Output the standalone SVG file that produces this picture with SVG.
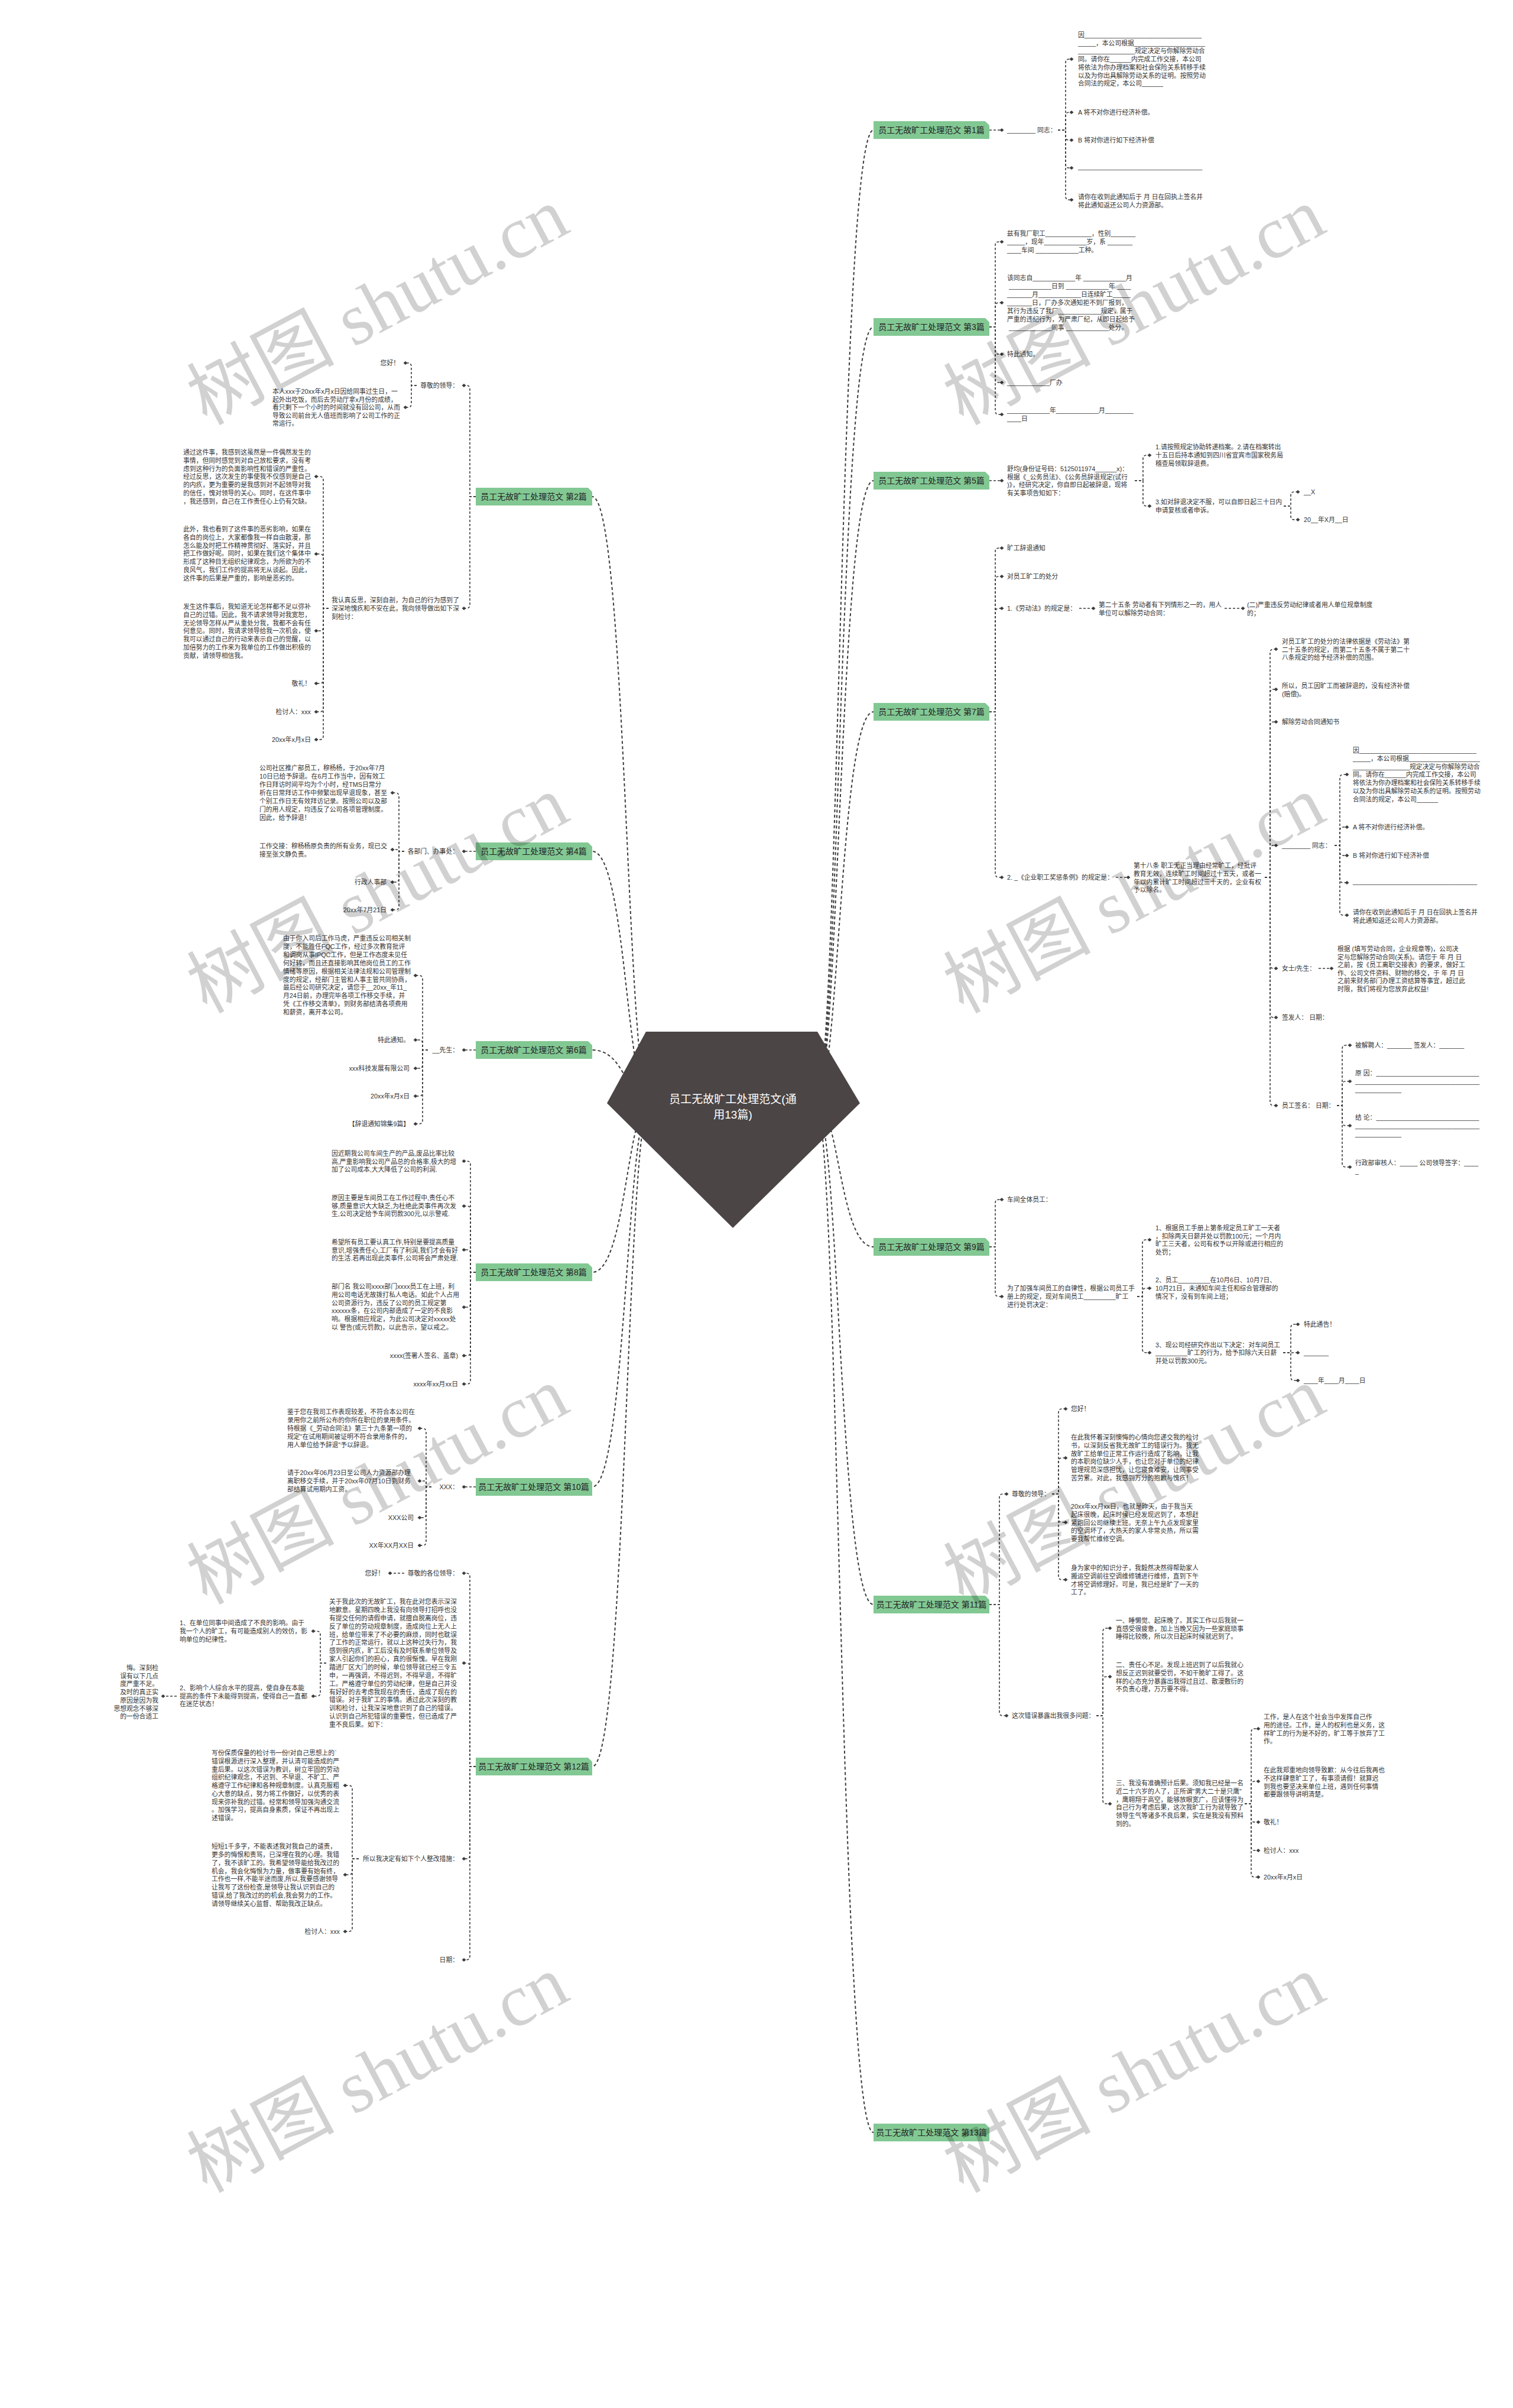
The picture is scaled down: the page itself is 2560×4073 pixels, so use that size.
<svg xmlns="http://www.w3.org/2000/svg" width="2560" height="4073" viewBox="0 0 2560 4073">
<defs>
<style>
.t{font-family:"Liberation Sans","Noto Sans CJK SC",sans-serif;font-size:10.8px;fill:#333}
.e{text-anchor:end}
.nt{font-family:"Liberation Sans","Noto Sans CJK SC",sans-serif;font-size:14px;fill:#222;text-anchor:middle}
.nb{fill:#82c893}
.c path{fill:none;stroke:#3c3c3c;stroke-width:1.6;stroke-dasharray:4 3}
.m path{fill:none;stroke:#3c3c3c;stroke-width:2;stroke-dasharray:5 4}
.wm{font-family:"Liberation Serif","Noto Sans CJK SC",serif;font-size:125px;fill:#000;fill-opacity:.18;text-anchor:middle}
</style>
<path id="d" d="M-3.5 0L0-3L3.5 0L0 3Z" fill="#3c3c3c"/>
</defs>
<rect width="2560" height="4073" fill="#fff"/>

<g id="connectors">
<g class="m">
<path d="M1380 1866C1420 1866 1420 220 1478 220"/>
<path d="M1380 1866C1420 1866 1420 553 1478 553"/>
<path d="M1380 1866C1420 1866 1420 813 1478 813"/>
<path d="M1380 1866C1420 1866 1420 1204 1478 1204"/>
<path d="M1380 1866C1420 1866 1420 2109 1478 2109"/>
<path d="M1380 1866C1420 1866 1420 2714 1478 2714"/>
<path d="M1380 1866C1420 1866 1420 3607 1478 3607"/>
<path d="M1100 1866C1060 1866 1060 840 1002 840"/>
<path d="M1100 1866C1060 1866 1060 1440 1002 1440"/>
<path d="M1100 1866C1060 1866 1060 1776 1002 1776"/>
<path d="M1100 1866C1060 1866 1060 2152 1002 2152"/>
<path d="M1100 1866C1060 1866 1060 2515 1002 2515"/>
<path d="M1100 1866C1060 1866 1060 2988 1002 2988"/>
</g>
<g class="c">
<path d="M1674 220H1692"/>
<path d="M1790 220H1803V106Q1803 100 1809 100H1813"/>
<path d="M1790 220H1803V196Q1803 190 1809 190H1813"/>
<path d="M1790 220H1803V231Q1803 237 1809 237H1813"/>
<path d="M1790 220H1803V278Q1803 284 1809 284H1813"/>
<path d="M1790 220H1803V332Q1803 338 1809 338H1813"/>
<path d="M1674 553H1684V415Q1684 409 1690 409H1695"/>
<path d="M1674 553H1684V518Q1684 512 1690 512H1695"/>
<path d="M1674 553H1684V593Q1684 599 1690 599H1695"/>
<path d="M1674 553H1684V641Q1684 647 1690 647H1695"/>
<path d="M1674 553H1684V695Q1684 701 1690 701H1695"/>
<path d="M1674 813H1695"/>
<path d="M1920 813H1934V776Q1934 770 1940 770H1945"/>
<path d="M1920 813H1934V850Q1934 856 1940 856H1945"/>
<path d="M2172 856H2184V838Q2184 832 2190 832H2196"/>
<path d="M2172 856H2184V873Q2184 879 2190 879H2196"/>
<path d="M1674 1204H1684V933Q1684 927 1690 927H1695"/>
<path d="M1674 1204H1684V981Q1684 975 1690 975H1695"/>
<path d="M1674 1204H1684V1035Q1684 1029 1690 1029H1695"/>
<path d="M1674 1204H1684V1478Q1684 1484 1690 1484H1695"/>
<path d="M1826 1029H1850"/>
<path d="M2072 1029H2103"/>
<path d="M1888 1484H1909"/>
<path d="M2140 1484H2149V1104Q2149 1098 2155 1098H2159"/>
<path d="M2140 1484H2149V1172Q2149 1166 2155 1166H2159"/>
<path d="M2140 1484H2149V1227Q2149 1221 2155 1221H2159"/>
<path d="M2140 1484H2149V1436Q2149 1430 2155 1430H2159"/>
<path d="M2140 1484H2149V1632Q2149 1638 2155 1638H2159"/>
<path d="M2140 1484H2149V1715Q2149 1721 2155 1721H2159"/>
<path d="M2140 1484H2149V1864Q2149 1870 2155 1870H2159"/>
<path d="M2258 1430H2267V1316Q2267 1310 2273 1310H2279"/>
<path d="M2258 1430H2267V1405Q2267 1399 2273 1399H2279"/>
<path d="M2258 1430H2267V1441Q2267 1447 2273 1447H2279"/>
<path d="M2258 1430H2267V1487Q2267 1493 2273 1493H2279"/>
<path d="M2258 1430H2267V1542Q2267 1548 2273 1548H2279"/>
<path d="M2231 1638H2253"/>
<path d="M2262 1870H2271V1774Q2271 1768 2277 1768H2284"/>
<path d="M2262 1870H2271V1835Q2271 1829 2277 1829H2284"/>
<path d="M2262 1870H2271V1898Q2271 1904 2277 1904H2284"/>
<path d="M2262 1870H2271V1968Q2271 1974 2277 1974H2284"/>
<path d="M1674 2109H1684V2035Q1684 2029 1690 2029H1695"/>
<path d="M1674 2109H1684V2187Q1684 2193 1690 2193H1695"/>
<path d="M1924 2193H1933V2103Q1933 2097 1939 2097H1945"/>
<path d="M1924 2193H1933V2185Q1933 2179 1939 2179H1945"/>
<path d="M1924 2193H1933V2282Q1933 2288 1939 2288H1945"/>
<path d="M2171 2288H2184V2246Q2184 2240 2190 2240H2196"/>
<path d="M2171 2288H2196"/>
<path d="M2171 2288H2184V2329Q2184 2335 2190 2335H2196"/>
<path d="M1674 2714H1691V2533Q1691 2527 1697 2527H1703"/>
<path d="M1674 2714H1691V2896Q1691 2902 1697 2902H1703"/>
<path d="M1780 2527H1791V2389Q1791 2383 1797 2383H1803"/>
<path d="M1780 2527H1791V2472Q1791 2466 1797 2466H1803"/>
<path d="M1780 2527H1791V2569Q1791 2575 1797 2575H1803"/>
<path d="M1780 2527H1791V2666Q1791 2672 1797 2672H1803"/>
<path d="M1855 2902H1866V2760Q1866 2754 1872 2754H1878"/>
<path d="M1855 2902H1866V2842Q1866 2836 1872 2836H1878"/>
<path d="M1855 2902H1866V3045Q1866 3051 1872 3051H1878"/>
<path d="M2106 3051H2117V2930Q2117 2924 2123 2924H2129"/>
<path d="M2106 3051H2117V3019Q2117 3013 2123 3013H2129"/>
<path d="M2106 3051H2117V3076Q2117 3082 2123 3082H2129"/>
<path d="M2106 3051H2117V3124Q2117 3130 2123 3130H2129"/>
<path d="M2106 3051H2117V3169Q2117 3175 2123 3175H2129"/>
<path d="M805 840H795V658Q795 652 789 652H785"/>
<path d="M805 840H795V1023Q795 1029 789 1029H785"/>
<path d="M705 652H696V620Q696 614 690 614H686"/>
<path d="M705 652H696V683Q696 689 690 689H686"/>
<path d="M556 1029H547V812Q547 806 541 806H535"/>
<path d="M556 1029H547V943Q547 937 541 937H535"/>
<path d="M556 1029H547V1061Q547 1067 541 1067H535"/>
<path d="M556 1029H547V1150Q547 1156 541 1156H535"/>
<path d="M556 1029H547V1198Q547 1204 541 1204H535"/>
<path d="M556 1029H547V1245Q547 1251 541 1251H535"/>
<path d="M805 1440H785"/>
<path d="M684 1440H675V1347Q675 1341 669 1341H664"/>
<path d="M684 1440H675V1437H664"/>
<path d="M684 1440H675V1486Q675 1492 669 1492H664"/>
<path d="M684 1440H675V1533Q675 1539 669 1539H664"/>
<path d="M805 1776H785"/>
<path d="M724 1776H715V1656Q715 1650 709 1650H703"/>
<path d="M724 1776H715V1765Q715 1759 709 1759H703"/>
<path d="M724 1776H715V1801Q715 1807 709 1807H703"/>
<path d="M724 1776H715V1848Q715 1854 709 1854H703"/>
<path d="M724 1776H715V1895Q715 1901 709 1901H703"/>
<path d="M805 2152H796V1970Q796 1964 790 1964H785"/>
<path d="M805 2152H796V2046Q796 2040 790 2040H785"/>
<path d="M805 2152H796V2120Q796 2114 790 2114H785"/>
<path d="M805 2152H796V2205Q796 2211 790 2211H785"/>
<path d="M805 2152H796V2287Q796 2293 790 2293H785"/>
<path d="M805 2152H796V2335Q796 2341 790 2341H785"/>
<path d="M805 2515H785"/>
<path d="M730 2515H721V2422Q721 2416 715 2416H710"/>
<path d="M730 2515H721V2505H710"/>
<path d="M730 2515H721V2561Q721 2567 715 2567H710"/>
<path d="M730 2515H721V2608Q721 2614 715 2614H710"/>
<path d="M805 2988H795V2667Q795 2661 789 2661H785"/>
<path d="M805 2988H795V2819Q795 2813 789 2813H785"/>
<path d="M805 2988H795V3138Q795 3144 789 3144H785"/>
<path d="M805 2988H795V3309Q795 3315 789 3315H785"/>
<path d="M684 2661H660"/>
<path d="M552 2813H542V2765Q542 2759 536 2759H530"/>
<path d="M552 2813H542V2863Q542 2869 536 2869H530"/>
<path d="M299 2869H276"/>
<path d="M607 3144H596V3026Q596 3020 590 3020H584"/>
<path d="M607 3144H596V3165Q596 3171 590 3171H584"/>
<path d="M607 3144H596V3261Q596 3267 590 3267H584"/>
</g>
<g id="diamonds">
<use href="#d" x="1695" y="220"/><use href="#d" x="1813" y="100"/><use href="#d" x="1813" y="190"/><use href="#d" x="1813" y="237"/><use href="#d" x="1813" y="284"/><use href="#d" x="1813" y="338"/>
<use href="#d" x="1695" y="409"/><use href="#d" x="1695" y="512"/><use href="#d" x="1695" y="599"/><use href="#d" x="1695" y="647"/><use href="#d" x="1695" y="701"/>
<use href="#d" x="1695" y="813"/><use href="#d" x="1945" y="770"/><use href="#d" x="1945" y="856"/><use href="#d" x="2196" y="832"/><use href="#d" x="2196" y="879"/>
<use href="#d" x="1695" y="927"/><use href="#d" x="1695" y="975"/><use href="#d" x="1695" y="1029"/><use href="#d" x="1695" y="1484"/>
<use href="#d" x="1850" y="1029"/><use href="#d" x="2103" y="1029"/><use href="#d" x="1909" y="1484"/>
<use href="#d" x="2159" y="1098"/><use href="#d" x="2159" y="1166"/><use href="#d" x="2159" y="1221"/><use href="#d" x="2159" y="1430"/><use href="#d" x="2159" y="1638"/><use href="#d" x="2159" y="1721"/><use href="#d" x="2159" y="1870"/>
<use href="#d" x="2279" y="1310"/><use href="#d" x="2279" y="1399"/><use href="#d" x="2279" y="1447"/><use href="#d" x="2279" y="1493"/><use href="#d" x="2279" y="1548"/>
<use href="#d" x="2253" y="1638"/>
<use href="#d" x="2284" y="1768"/><use href="#d" x="2284" y="1829"/><use href="#d" x="2284" y="1904"/><use href="#d" x="2284" y="1974"/>
<use href="#d" x="1695" y="2029"/><use href="#d" x="1695" y="2193"/><use href="#d" x="1945" y="2097"/><use href="#d" x="1945" y="2179"/><use href="#d" x="1945" y="2288"/>
<use href="#d" x="2196" y="2240"/><use href="#d" x="2196" y="2288"/><use href="#d" x="2196" y="2335"/>
<use href="#d" x="1703" y="2527"/><use href="#d" x="1703" y="2902"/>
<use href="#d" x="1803" y="2383"/><use href="#d" x="1803" y="2466"/><use href="#d" x="1803" y="2575"/><use href="#d" x="1803" y="2672"/>
<use href="#d" x="1878" y="2754"/><use href="#d" x="1878" y="2836"/><use href="#d" x="1878" y="3051"/>
<use href="#d" x="2129" y="2924"/><use href="#d" x="2129" y="3013"/><use href="#d" x="2129" y="3082"/><use href="#d" x="2129" y="3130"/><use href="#d" x="2129" y="3175"/>
<use href="#d" x="785" y="652"/><use href="#d" x="785" y="1029"/><use href="#d" x="686" y="614"/><use href="#d" x="686" y="689"/>
<use href="#d" x="535" y="806"/><use href="#d" x="535" y="937"/><use href="#d" x="535" y="1067"/><use href="#d" x="535" y="1156"/><use href="#d" x="535" y="1204"/><use href="#d" x="535" y="1251"/>
<use href="#d" x="785" y="1440"/><use href="#d" x="664" y="1341"/><use href="#d" x="664" y="1437"/><use href="#d" x="664" y="1492"/><use href="#d" x="664" y="1539"/>
<use href="#d" x="785" y="1776"/><use href="#d" x="703" y="1650"/><use href="#d" x="703" y="1759"/><use href="#d" x="703" y="1807"/><use href="#d" x="703" y="1854"/><use href="#d" x="703" y="1901"/>
<use href="#d" x="785" y="1964"/><use href="#d" x="785" y="2040"/><use href="#d" x="785" y="2114"/><use href="#d" x="785" y="2211"/><use href="#d" x="785" y="2293"/><use href="#d" x="785" y="2341"/>
<use href="#d" x="785" y="2515"/><use href="#d" x="710" y="2416"/><use href="#d" x="710" y="2505"/><use href="#d" x="710" y="2567"/><use href="#d" x="710" y="2614"/>
<use href="#d" x="785" y="2661"/><use href="#d" x="785" y="2813"/><use href="#d" x="785" y="3144"/><use href="#d" x="785" y="3315"/>
<use href="#d" x="660" y="2661"/><use href="#d" x="530" y="2759"/><use href="#d" x="530" y="2869"/><use href="#d" x="276" y="2869"/>
<use href="#d" x="584" y="3020"/><use href="#d" x="584" y="3171"/><use href="#d" x="584" y="3267"/>
</g>
</g>

<g id="root">
<path d="M1093 1745H1383L1455 1866L1240 2077L1027 1866Z" fill="#4b4545"/>
<text x="1240" y="1866" font-family="Liberation Sans,Noto Sans CJK SC,sans-serif" font-size="19" fill="#fff" text-anchor="middle">员工无故旷工处理范文(通</text>
<text x="1240" y="1892" font-family="Liberation Sans,Noto Sans CJK SC,sans-serif" font-size="19" fill="#fff" text-anchor="middle">用13篇)</text>
</g>

<g id="b1">
<path class="nb" d="M1478 205H1667L1674 212V235H1478Z"/>
<text class="nt" x="1576" y="225">员工无故旷工处理范文 第1篇</text>
<text class="t" x="1704" y="224">________ 同志：</text>
<text class="t"><tspan x="1824" y="63">因_________________________________</tspan><tspan x="1824" y="76.7">_____，本公司根据____________________</tspan><tspan x="1824" y="90.4">________________规定决定与你解除劳动合</tspan><tspan x="1824" y="104.1">同。请你在______内完成工作交接，本公司</tspan><tspan x="1824" y="117.8">将依法为你办理档案和社会保险关系转移手续</tspan><tspan x="1824" y="131.5">以及为你出具解除劳动关系的证明。按照劳动</tspan><tspan x="1824" y="145.2">合同法的规定，本公司______</tspan></text>
<text class="t" x="1824" y="194">A 将不对你进行经济补偿。</text>
<text class="t" x="1824" y="241">B 将对你进行如下经济补偿</text>
<text class="t" x="1824" y="286">___________________________________</text>
<text class="t"><tspan x="1824" y="337">请你在收到此通知后于 月 日在回执上签名并</tspan><tspan x="1824" y="350.7">将此通知返还公司人力资源部。</tspan></text>
</g>

<g id="b3">
<path class="nb" d="M1478 538H1667L1674 545V568H1478Z"/>
<text class="nt" x="1576" y="558">员工无故旷工处理范文 第3篇</text>
<text class="t"><tspan x="1704" y="399">兹有我厂职工_____________，性别_______</tspan><tspan x="1704" y="413">_____，现年____________岁，系 _______</tspan><tspan x="1704" y="427">____车间 ____________工种。</tspan></text>
<text class="t"><tspan x="1704" y="474">该同志自____________年 ____________月</tspan><tspan x="1704" y="488"> ____________日到 ____________年 ____</tspan><tspan x="1704" y="502">_______月____________日连续旷工_____</tspan><tspan x="1704" y="516">_______日，厂办多次通知拒不到厂报到，</tspan><tspan x="1704" y="530">其行为违反了我厂____________规定，属于</tspan><tspan x="1704" y="544">严重的违纪行为，为严肃厂纪，从即日起给予</tspan><tspan x="1704" y="558"> ____________同事 ____________处分。</tspan></text>
<text class="t" x="1704" y="603">特此通知。</text>
<text class="t" x="1704" y="651">____________厂办</text>
<text class="t"><tspan x="1704" y="698">____________年____________月________</tspan><tspan x="1704" y="712">____日</tspan></text>
</g>

<g id="b5">
<path class="nb" d="M1478 798H1667L1674 805V828H1478Z"/>
<text class="nt" x="1576" y="818">员工无故旷工处理范文 第5篇</text>
<text class="t"><tspan x="1704" y="797">舒均(身份证号码：5125011974______x)：</tspan><tspan x="1704" y="810.5">根据《_公务员法》、《公务员辞退规定(试行</tspan><tspan x="1704" y="824">)》，经研究决定，你自即日起被辞退，现将</tspan><tspan x="1704" y="837.5">有关事项告知如下：</tspan></text>
<text class="t"><tspan x="1955" y="760">1.请按照规定协助转递档案。2.请在档案转出</tspan><tspan x="1955" y="774">十五日后持本通知到四川省宜宾市国家税务局</tspan><tspan x="1955" y="788">稽查局领取辞退费。</tspan></text>
<text class="t"><tspan x="1955" y="853">3.如对辞退决定不服，可以自即日起三十日内</tspan><tspan x="1955" y="867">申请复核或者申诉。</tspan></text>
<text class="t" x="2206" y="836">__X</text>
<text class="t" x="2206" y="883">20__年X月__日</text>
</g>

<g id="b7">
<path class="nb" d="M1478 1189H1667L1674 1196V1219H1478Z"/>
<text class="nt" x="1576" y="1209">员工无故旷工处理范文 第7篇</text>
<text class="t" x="1704" y="931">旷工辞退通知</text>
<text class="t" x="1704" y="979">对员工旷工的处分</text>
<text class="t" x="1704" y="1033">1.《劳动法》的规定是：</text>
<text class="t"><tspan x="1859" y="1027">第二十五条 劳动者有下列情形之一的，用人</tspan><tspan x="1859" y="1041">单位可以解除劳动合同：</tspan></text>
<text class="t"><tspan x="2110" y="1027">(二)严重违反劳动纪律或者用人单位规章制度</tspan><tspan x="2110" y="1041">的；</tspan></text>
<text class="t" x="1704" y="1488">2. _《企业职工奖惩条例》的规定是：</text>
<text class="t"><tspan x="1918" y="1468">第十八条 职工无正当理由经常旷工，经批评</tspan><tspan x="1918" y="1482">教育无效，连续旷工时间超过十五天，或者一</tspan><tspan x="1918" y="1495.5">年以内累计旷工时间超过三十天的，企业有权</tspan><tspan x="1918" y="1509">予以除名。</tspan></text>
<text class="t"><tspan x="2169" y="1089">对员工旷工的处分的法律依据是《劳动法》第</tspan><tspan x="2169" y="1102.5">二十五条的规定，而第二十五条不属于第二十</tspan><tspan x="2169" y="1116">八条规定的给予经济补偿的范围。</tspan></text>
<text class="t"><tspan x="2169" y="1164">所以，员工因旷工而被辞退的，没有经济补偿</tspan><tspan x="2169" y="1177.5">(赔偿)。</tspan></text>
<text class="t" x="2169" y="1225">解除劳动合同通知书</text>
<text class="t" x="2169" y="1434">________ 同志：</text>
<text class="t"><tspan x="2289" y="1273">因_________________________________</tspan><tspan x="2289" y="1286.8">_____，本公司根据____________________</tspan><tspan x="2289" y="1300.6">________________规定决定与你解除劳动合</tspan><tspan x="2289" y="1314.4">同。请你在______内完成工作交接，本公司</tspan><tspan x="2289" y="1328.2">将依法为你办理档案和社会保险关系转移手续</tspan><tspan x="2289" y="1342">以及为你出具解除劳动关系的证明。按照劳动</tspan><tspan x="2289" y="1355.8">合同法的规定，本公司______</tspan></text>
<text class="t" x="2289" y="1403">A 将不对你进行经济补偿。</text>
<text class="t" x="2289" y="1451">B 将对你进行如下经济补偿</text>
<text class="t" x="2289" y="1495">___________________________________</text>
<text class="t"><tspan x="2289" y="1547">请你在收到此通知后于 月 日在回执上签名并</tspan><tspan x="2289" y="1560.5">将此通知返还公司人力资源部。</tspan></text>
<text class="t" x="2169" y="1642">女士/先生：</text>
<text class="t"><tspan x="2263" y="1609">根据 (填写劳动合同，企业规章等)，公司决</tspan><tspan x="2263" y="1622.6">定与您解除劳动合同(关系)。请您于 年 月 日</tspan><tspan x="2263" y="1636.2">之前，按《员工离职交接表》的要求，做好工</tspan><tspan x="2263" y="1649.8">作、公司文件资料、财物的移交，于 年 月 日</tspan><tspan x="2263" y="1663.4">之前来财务部门办理工资结算等事宜，超过此</tspan><tspan x="2263" y="1677">时限，我们将视为您放弃此权益!</tspan></text>
<text class="t" x="2169" y="1725">签发人： 日期：</text>
<text class="t" x="2169" y="1874">员工签名： 日期：</text>
<text class="t" x="2293" y="1772">被解聘人：_______ 签发人：_______</text>
<text class="t"><tspan x="2293" y="1819">原 因：_____________________________</tspan><tspan x="2293" y="1833">___________________________________</tspan><tspan x="2293" y="1847">_____________</tspan></text>
<text class="t"><tspan x="2293" y="1894">结 论：_____________________________</tspan><tspan x="2293" y="1908">___________________________________</tspan><tspan x="2293" y="1922">_____________</tspan></text>
<text class="t"><tspan x="2293" y="1971">行政部审核人：_____ 公司领导签字：____</tspan><tspan x="2293" y="1985">_</tspan></text>
</g>

<g id="b9">
<path class="nb" d="M1478 2094H1667L1674 2101V2124H1478Z"/>
<text class="nt" x="1576" y="2114">员工无故旷工处理范文 第9篇</text>
<text class="t" x="1704" y="2033">车间全体员工：</text>
<text class="t"><tspan x="1704" y="2183">为了加强车间员工的自律性，根据公司员工手</tspan><tspan x="1704" y="2197">册上的规定，现对车间员工_________旷工</tspan><tspan x="1704" y="2211">进行处罚决定：</tspan></text>
<text class="t"><tspan x="1955" y="2081">1、根据员工手册上第条规定员工旷工一天者</tspan><tspan x="1955" y="2095">，扣除两天日薪并处以罚款100元；一个月内</tspan><tspan x="1955" y="2108">旷工三天者，公司有权予以开除或进行相应的</tspan><tspan x="1955" y="2122">处罚；</tspan></text>
<text class="t"><tspan x="1955" y="2169">2、员工_________在10月6日、10月7日、</tspan><tspan x="1955" y="2183">10月21日，未通知车间主任和综合管理部的</tspan><tspan x="1955" y="2197">情况下，没有到车间上班；</tspan></text>
<text class="t"><tspan x="1955" y="2279">3、现公司经研究作出以下决定：对车间员工</tspan><tspan x="1955" y="2292">_________旷工的行为，给予扣除六天日薪</tspan><tspan x="1955" y="2306">并处以罚款300元。</tspan></text>
<text class="t" x="2206" y="2244">特此通告！</text>
<text class="t" x="2206" y="2292">_______</text>
<text class="t" x="2206" y="2339">____年____月____日</text>
</g>

<g id="b11">
<path class="nb" d="M1478 2699H1667L1674 2706V2729H1478Z"/>
<text class="nt" x="1576" y="2719">员工无故旷工处理范文 第11篇</text>
<text class="t" x="1712" y="2531">尊敬的领导：</text>
<text class="t" x="1812" y="2387">您好！</text>
<text class="t"><tspan x="1812" y="2435">在此我怀着深刻懊悔的心情向您递交我的检讨</tspan><tspan x="1812" y="2448.8">书，以深刻反省我无故旷工的错误行为。我无</tspan><tspan x="1812" y="2462.6">故旷工给单位正常工作运行造成了影响，让我</tspan><tspan x="1812" y="2476.4">的本职岗位缺少人手，也让您对于单位的纪律</tspan><tspan x="1812" y="2490.2">管理规范深感担忧，让您寝食难安，让同事受</tspan><tspan x="1812" y="2504">苦劳累。对此，我感到万分的抱歉与愧疚！</tspan></text>
<text class="t"><tspan x="1812" y="2552">20xx年xx月xx日，也就是昨天，由于我当天</tspan><tspan x="1812" y="2565.8">起床很晚，起床时候已经发现迟到了，本想赶</tspan><tspan x="1812" y="2579.6">紧跑回公司继续上班。无奈上午九点发现家里</tspan><tspan x="1812" y="2593.4">的空调坏了，大热天的家人非常炎热，所以需</tspan><tspan x="1812" y="2607.2">要我帮忙维修空调。</tspan></text>
<text class="t"><tspan x="1812" y="2656">身为家中的知识分子，我毅然决然得帮助家人</tspan><tspan x="1812" y="2669.8">搬运空调前往空调维修铺进行维修，直到下午</tspan><tspan x="1812" y="2683.6">才将空调修理好。可是，我已经是旷了一天的</tspan><tspan x="1812" y="2697.4">工了。</tspan></text>
<text class="t" x="1712" y="2906">这次错误暴露出我很多问题：</text>
<text class="t"><tspan x="1888" y="2745">一、睡懒觉、起床晚了。其实工作以后我就一</tspan><tspan x="1888" y="2758.5">直感受很疲惫，加上当晚又因为一些家庭琐事</tspan><tspan x="1888" y="2772">睡得比较晚，所以次日起床时候就迟到了。</tspan></text>
<text class="t"><tspan x="1888" y="2820">二、责任心不足。发现上班迟到了以后我就心</tspan><tspan x="1888" y="2833.8">想反正迟到就要受罚，不如干脆旷工得了。这</tspan><tspan x="1888" y="2847.6">样的心态充分暴露出我得过且过、散漫敷衍的</tspan><tspan x="1888" y="2861.4">不负责心理，万万要不得。</tspan></text>
<text class="t"><tspan x="1888" y="3020">三、我没有准确预计后果。须知我已经是一名</tspan><tspan x="1888" y="3033.8">近二十六岁的人了，正所谓"男大二十是只鹰"</tspan><tspan x="1888" y="3047.6">，鹰翱翔于高空，能够放眼宽广，应该懂得为</tspan><tspan x="1888" y="3061.4">自己行为考虑后果，这次我旷工行为就导致了</tspan><tspan x="1888" y="3075.2">领导生气等诸多不良后果，实在是我没有预料</tspan><tspan x="1888" y="3089">到的。</tspan></text>
<text class="t"><tspan x="2138" y="2908">工作，是人在这个社会当中发挥自己作</tspan><tspan x="2138" y="2921.8">用的途径。工作，是人的权利也是义务，这</tspan><tspan x="2138" y="2935.6">样旷工的行为是不好的，旷工等于放弃了工</tspan><tspan x="2138" y="2949.4">作。</tspan></text>
<text class="t"><tspan x="2138" y="2998">在此我郑重地向领导致歉：从今往后我再也</tspan><tspan x="2138" y="3011.8">不这样肆意旷工了，有事须请假！就算迟</tspan><tspan x="2138" y="3025.6">到我也要坚决来单位上班，遇到任何事情</tspan><tspan x="2138" y="3039.4">都要跟领导讲明清楚。</tspan></text>
<text class="t" x="2138" y="3086">敬礼！</text>
<text class="t" x="2138" y="3134">检讨人：xxx</text>
<text class="t" x="2138" y="3179">20xx年x月x日</text>
</g>

<g id="b13">
<path class="nb" d="M1478 3592H1667L1674 3599V3622H1478Z"/>
<text class="nt" x="1576" y="3612">员工无故旷工处理范文 第13篇</text>
</g>

<g id="b2">
<path class="nb" d="M805 825H995L1002 832V855H805Z"/>
<text class="nt" x="903" y="845">员工无故旷工处理范文 第2篇</text>
<text class="t e" x="776" y="656">尊敬的领导：</text>
<text class="t e" x="676" y="618">您好！</text>
<text class="t"><tspan x="461" y="666">本人xxx于20xx年x月x日因给同事过生日，一</tspan><tspan x="461" y="679.5">起外出吃饭，而后去劳动厅拿x月份的成绩，</tspan><tspan x="461" y="693">看只剩下一个小时的时间就没有回公司，从而</tspan><tspan x="461" y="706.5">导致公司前台无人值班而影响了公司工作的正</tspan><tspan x="461" y="720">常运行。</tspan></text>
<text class="t"><tspan x="561" y="1019">我认真反思，深刻自剖，为自己的行为感到了</tspan><tspan x="561" y="1033">深深地愧疚和不安在此，我向领导做出如下深</tspan><tspan x="561" y="1047">刻检讨：</tspan></text>
<text class="t"><tspan x="310" y="769">通过这件事，我感到这虽然是一件偶然发生的</tspan><tspan x="310" y="782.8">事情，但同时感觉到对自己放松要求，没有考</tspan><tspan x="310" y="796.6">虑到这种行为的负面影响性和错误的严重性。</tspan><tspan x="310" y="810.4">经过反思，这次发生的事使我不仅感到是自己</tspan><tspan x="310" y="824.2">的内疚，更为重要的是我感到对不起领导对我</tspan><tspan x="310" y="838">的信任，愧对领导的关心。同时，在这件事中</tspan><tspan x="310" y="851.8">，我还感到，自己在工作责任心上仍有欠缺。</tspan></text>
<text class="t"><tspan x="310" y="899">此外，我也看到了这件事的恶劣影响，如果在</tspan><tspan x="310" y="912.8">各自的岗位上，大家都像我一样自由散漫，那</tspan><tspan x="310" y="926.6">怎么能及时把工作精神贯彻好、落实好，并且</tspan><tspan x="310" y="940.4">把工作做好呢。同时，如果在我们这个集体中</tspan><tspan x="310" y="954.2">形成了这种目无组织纪律观念，为所欲为的不</tspan><tspan x="310" y="968">良风气，我们工作的提高将无从谈起。因此，</tspan><tspan x="310" y="981.8">这件事的后果是严重的，影响是恶劣的。</tspan></text>
<text class="t"><tspan x="310" y="1030">发生这件事后，我知道无论怎样都不足以弥补</tspan><tspan x="310" y="1043.8">自己的过错。因此，我不请求领导对我宽恕，</tspan><tspan x="310" y="1057.6">无论领导怎样从严从重处分我，我都不会有任</tspan><tspan x="310" y="1071.4">何意见。同时，我请求领导给我一次机会，使</tspan><tspan x="310" y="1085.2">我可以通过自己的行动来表示自己的觉醒，以</tspan><tspan x="310" y="1099">加倍努力的工作来为我单位的工作做出积极的</tspan><tspan x="310" y="1112.8">贡献，请领导相信我。</tspan></text>
<text class="t e" x="526" y="1160">敬礼！</text>
<text class="t e" x="526" y="1208">检讨人：xxx</text>
<text class="t e" x="526" y="1255">20xx年x月x日</text>
</g>

<g id="b4">
<path class="nb" d="M805 1425H995L1002 1432V1455H805Z"/>
<text class="nt" x="903" y="1445">员工无故旷工处理范文 第4篇</text>
<text class="t e" x="776" y="1444">各部门、办事处：</text>
<text class="t"><tspan x="439" y="1303">公司社区推广部员工，穆杨杨，于20xx年7月</tspan><tspan x="439" y="1317">10日已给予辞退。在6月工作当中，因有效工</tspan><tspan x="439" y="1331">作日拜访时间平均为个小时，经TMS日常分</tspan><tspan x="439" y="1345">析在日常拜访工作中频繁出现早退现象，甚至</tspan><tspan x="439" y="1359">个别工作日无有效拜访记录。按照公司以及部</tspan><tspan x="439" y="1373">门的用人规定，均违反了公司各项管理制度。</tspan><tspan x="439" y="1387">因此，给予辞退！</tspan></text>
<text class="t"><tspan x="439" y="1435">工作交接：穆杨杨原负责的所有业务，现已交</tspan><tspan x="439" y="1449">接至张文静负责。</tspan></text>
<text class="t e" x="654" y="1496">行政人事部</text>
<text class="t e" x="654" y="1543">20xx年7月21日</text>
</g>

<g id="b6">
<path class="nb" d="M805 1761H995L1002 1768V1791H805Z"/>
<text class="nt" x="903" y="1781">员工无故旷工处理范文 第6篇</text>
<text class="t e" x="776" y="1780">__先生：</text>
<text class="t"><tspan x="479" y="1591">由于你入司后工作马虎，严重违反公司相关制</tspan><tspan x="479" y="1604.9">度，不能胜任FQC工作，经过多次教育批评</tspan><tspan x="479" y="1618.8">和调岗从事IPQC工作，但是工作态度未见任</tspan><tspan x="479" y="1632.7">何好转，而且还直接影响其他岗位员工的工作</tspan><tspan x="479" y="1646.6">情绪等原因，根据相关法律法规和公司管理制</tspan><tspan x="479" y="1660.5">度的规定，经部门主管和人事主管共同协商，</tspan><tspan x="479" y="1674.4">最后经公司研究决定，请您于__20xx_年11_</tspan><tspan x="479" y="1688.3">月24日前，办理完毕各项工作移交手续，并</tspan><tspan x="479" y="1702.2">凭《工作移交清单》，到财务部结清各项费用</tspan><tspan x="479" y="1716.1">和薪资，离开本公司。</tspan></text>
<text class="t e" x="693" y="1763">特此通知。</text>
<text class="t e" x="693" y="1811">xxx科技发展有限公司</text>
<text class="t e" x="693" y="1858">20xx年x月x日</text>
<text class="t e" x="693" y="1905">【辞退通知锦集9篇】</text>
</g>

<g id="b8">
<path class="nb" d="M805 2137H995L1002 2144V2167H805Z"/>
<text class="nt" x="903" y="2157">员工无故旷工处理范文 第8篇</text>
<text class="t"><tspan x="561" y="1955">因近期我公司车间生产的产品,废品比率比较</tspan><tspan x="561" y="1968.5">高,严重影响我公司产品总的合格率,极大的增</tspan><tspan x="561" y="1982">加了公司成本,大大降低了公司的利润.</tspan></text>
<text class="t"><tspan x="561" y="2030">原因主要是车间员工在工作过程中,责任心不</tspan><tspan x="561" y="2044">够,质量意识大大缺乏,为杜绝此类事件再次发</tspan><tspan x="561" y="2057">生,公司决定给予车间罚款300元,以示警戒.</tspan></text>
<text class="t"><tspan x="561" y="2105">希望所有员工要认真工作,特别是要提高质量</tspan><tspan x="561" y="2118.5">意识,增强责任心,工厂有了利润,我们才会有好</tspan><tspan x="561" y="2132">的生活.若再出现此类事件,公司将会严肃处理.</tspan></text>
<text class="t"><tspan x="561" y="2180">部门名 我公司xxxx部门xxxx员工在上班，利</tspan><tspan x="561" y="2193.8">用公司电话无故拨打私人电话。如此个人占用</tspan><tspan x="561" y="2207.6">公司资源行为，违反了公司的员工规定第</tspan><tspan x="561" y="2221.4">xxxxxx条，在公司内部造成了一定的不良影</tspan><tspan x="561" y="2235.2">响。根据相应规定，为此公司决定对xxxxx处</tspan><tspan x="561" y="2249">以 警告(或元罚款)，以此告示，望以戒之。</tspan></text>
<text class="t e" x="775" y="2297">xxxx(签署人签名、盖章)</text>
<text class="t e" x="775" y="2345">xxxx年xx月xx日</text>
</g>

<g id="b10">
<path class="nb" d="M805 2500H995L1002 2507V2530H805Z"/>
<text class="nt" x="903" y="2520">员工无故旷工处理范文 第10篇</text>
<text class="t e" x="776" y="2519">XXX：</text>
<text class="t"><tspan x="486" y="2392">鉴于您在我司工作表现较差，不符合本公司在</tspan><tspan x="486" y="2406">录用你之前所公布的你所在职位的录用条件。</tspan><tspan x="486" y="2420">特根据《_劳动合同法》第三十九条第一项的</tspan><tspan x="486" y="2434">规定"在试用期间被证明不符合录用条件的，</tspan><tspan x="486" y="2448">用人单位给予辞退"予以辞退。</tspan></text>
<text class="t"><tspan x="486" y="2495">请于20xx年06月23日至公司人力资源部办理</tspan><tspan x="486" y="2509">离职移交手续，并于20xx年07月10日到财务</tspan><tspan x="486" y="2523">部结算试用期内工资。</tspan></text>
<text class="t e" x="700" y="2571">XXX公司</text>
<text class="t e" x="700" y="2618">XX年XX月XX日</text>
</g>

<g id="b12">
<path class="nb" d="M805 2973H995L1002 2980V3003H805Z"/>
<text class="nt" x="903" y="2993">员工无故旷工处理范文 第12篇</text>
<text class="t e" x="776" y="2665">尊敬的各位领导：</text>
<text class="t e" x="650" y="2665">您好！</text>
<text class="t"><tspan x="557" y="2713">关于我此次的无故旷工，我在此对您表示深深</tspan><tspan x="557" y="2726.9">地歉意。星期四晚上我没有向领导打招呼也没</tspan><tspan x="557" y="2740.7">有提交任何的请假申请，就擅自脱离岗位，违</tspan><tspan x="557" y="2754.6">反了单位的劳动规章制度，造成岗位上无人上</tspan><tspan x="557" y="2768.5">班，给单位带来了不必要的麻烦，同时也耽误</tspan><tspan x="557" y="2782.4">了工作的正常运行，就以上这种过失行为，我</tspan><tspan x="557" y="2796.2">感到很内疚，旷工后没有及时联系单位领导及</tspan><tspan x="557" y="2810.1">家人引起你们的担心，真的很惭愧。早在我刚</tspan><tspan x="557" y="2824">踏进厂区大门的时候，单位领导就已经三令五</tspan><tspan x="557" y="2837.8">申，一再强调，不得迟到，不得早退，不得旷</tspan><tspan x="557" y="2851.7">工。严格遵守单位的劳动纪律，但是自己并没</tspan><tspan x="557" y="2865.6">有好好的去考虑我现在的责任，造成了现在的</tspan><tspan x="557" y="2879.4">错误。对于我旷工的事情。通过此次深刻的教</tspan><tspan x="557" y="2893.3">训和检讨，让我深深地意识到了自己的错误。</tspan><tspan x="557" y="2907.2">认识到自己所犯错误的重要性，但已造成了严</tspan><tspan x="557" y="2921">重不良后果。如下：</tspan></text>
<text class="t"><tspan x="304" y="2749">1、在单位同事中间造成了不良的影响。由于</tspan><tspan x="304" y="2763">我一个人的旷工，有可能造成别人的效仿，影</tspan><tspan x="304" y="2777">响单位的纪律性。</tspan></text>
<text class="t"><tspan x="304" y="2859">2、影响个人综合水平的提高，使自身在本能</tspan><tspan x="304" y="2873">提高的条件下未能得到提高，使得自己一直都</tspan><tspan x="304" y="2886">在迷茫状态！</tspan></text>
<text class="t e"><tspan x="268" y="2825">悔。深刻检</tspan><tspan x="268" y="2838.7">误有以下几点</tspan><tspan x="268" y="2852.4">度严重不足。</tspan><tspan x="268" y="2866.1">及时的真正实</tspan><tspan x="268" y="2879.8">原因是因为我</tspan><tspan x="268" y="2893.5">思想观念不够深</tspan><tspan x="268" y="2907.2">的一份合适工</tspan></text>
<text class="t e" x="776" y="3148">所以我决定有如下个人整改措施：</text>
<text class="t"><tspan x="358" y="2969">写份保质保量的检讨书一份!对自己思想上的`</tspan><tspan x="358" y="2982.8">错误根源进行深入整理，并认清可能造成的严</tspan><tspan x="358" y="2996.5">重后果。以这次错误为教训，树立牢固的劳动</tspan><tspan x="358" y="3010.2">组织纪律观念，不迟到、不早退、不旷工、严</tspan><tspan x="358" y="3024">格遵守工作纪律和各种规章制度。认真克服粗</tspan><tspan x="358" y="3037.8">心大意的缺点，努力将工作做好，以优秀的表</tspan><tspan x="358" y="3051.5">现来弥补我的过错。经常和领导加强沟通交流</tspan><tspan x="358" y="3065.2">。加强学习，提高自身素质，保证不再出现上</tspan><tspan x="358" y="3079">述错误。</tspan></text>
<text class="t"><tspan x="358" y="3127">短短1千多字，不能表述我对我自己的谴责，</tspan><tspan x="358" y="3140.9">更多的悔恨和责骂，已深埋在我的心理。我错</tspan><tspan x="358" y="3154.7">了，我不该旷工的。我希望领导能给我改过的</tspan><tspan x="358" y="3168.6">机会，我会化悔恨为力量，做事要有始有终，</tspan><tspan x="358" y="3182.4">工作也一样,不能半途而废,所以,我要感谢领导</tspan><tspan x="358" y="3196.3">让我写了这份检查,是领导让我认识到自己的</tspan><tspan x="358" y="3210.2">错误,给了我改过的的机会,我会努力的工作。</tspan><tspan x="358" y="3224">请领导继续关心监督、帮助我改正缺点。</tspan></text>
<text class="t e" x="575" y="3271">检讨人：xxx</text>
<text class="t e" x="776" y="3319">日期：</text>
</g>

<g id="watermark">
<text class="wm" x="640" y="560" transform="rotate(-28 640 520)">树图 shutu.cn</text>
<text class="wm" x="1920" y="560" transform="rotate(-28 1920 520)">树图 shutu.cn</text>
<text class="wm" x="640" y="1555" transform="rotate(-28 640 1515)">树图 shutu.cn</text>
<text class="wm" x="1920" y="1555" transform="rotate(-28 1920 1515)">树图 shutu.cn</text>
<text class="wm" x="640" y="2555" transform="rotate(-28 640 2515)">树图 shutu.cn</text>
<text class="wm" x="1920" y="2555" transform="rotate(-28 1920 2515)">树图 shutu.cn</text>
<text class="wm" x="640" y="3550" transform="rotate(-28 640 3510)">树图 shutu.cn</text>
<text class="wm" x="1920" y="3550" transform="rotate(-28 1920 3510)">树图 shutu.cn</text>
</g>
</svg>
